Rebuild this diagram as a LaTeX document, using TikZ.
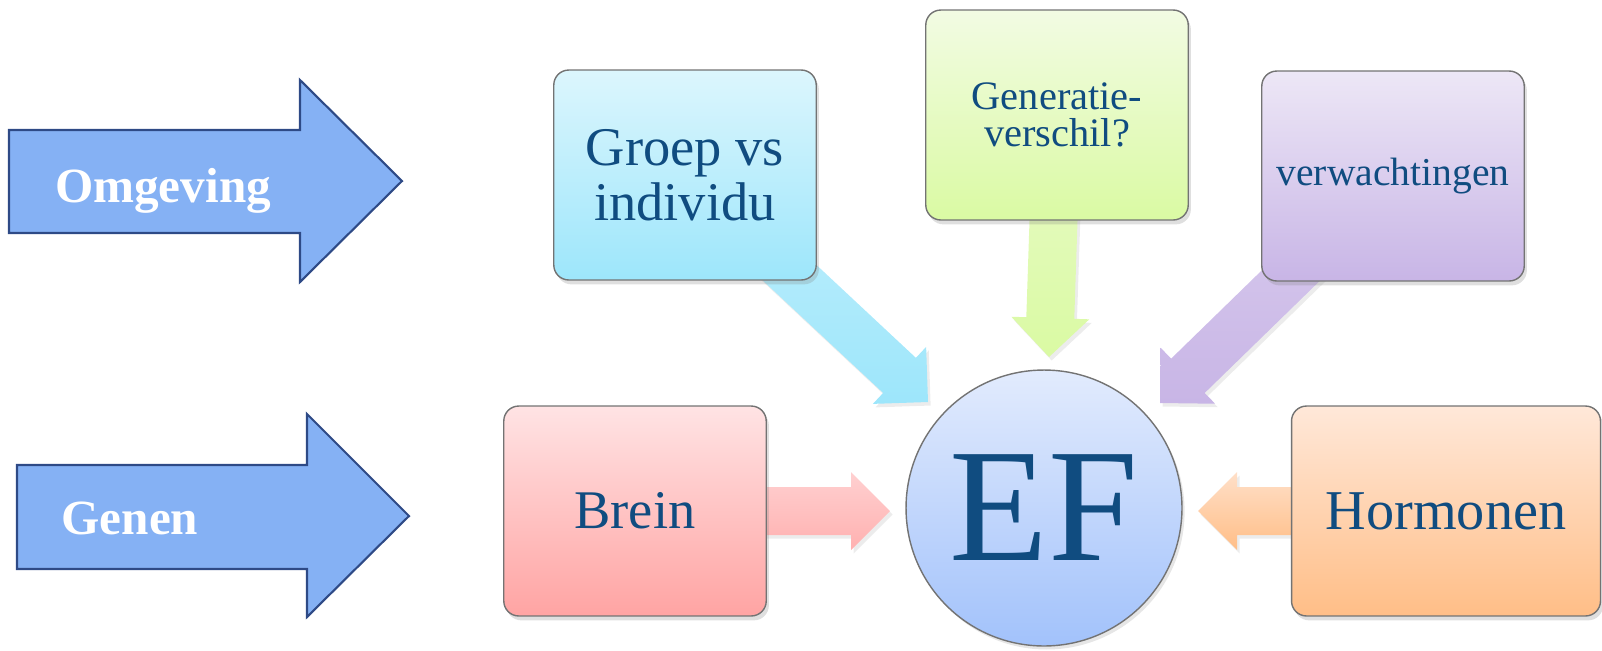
\documentclass[tikz,border=0pt]{standalone}
\usepackage{fontspec}
\setmainfont{Liberation Serif}
\usetikzlibrary{calc,shadows,backgrounds}

\definecolor{tekst}{RGB}{16,76,128}
\definecolor{pijlblauw}{HTML}{85B1F4}
\definecolor{pijlrand}{HTML}{2E4A86}
\definecolor{groepboven}{HTML}{DCF6FD}
\definecolor{groeponder}{HTML}{9DE6FB}
\definecolor{genboven}{HTML}{F2FBE3}
\definecolor{genonder}{HTML}{DAFAA3}
\definecolor{verwboven}{HTML}{EDE7F6}
\definecolor{verwonder}{HTML}{C8B5E6}
\definecolor{breinboven}{HTML}{FFE3E4}
\definecolor{breinonder}{HTML}{FFA4A3}
\definecolor{hormboven}{HTML}{FFE8D9}
\definecolor{hormonder}{HTML}{FFBE87}
\definecolor{efboven}{HTML}{E2EBFD}
\definecolor{efonder}{HTML}{A2C2FB}

\tikzset{
  blok/.style={draw=black!55, line width=0.8pt, rounded corners=0.3cm,
    minimum width=5.25cm, minimum height=4.2cm, align=center, text=tekst,
    drop shadow={opacity=0.25, shadow xshift=1.5pt, shadow yshift=-2.5pt}},
  grootpijl/.style={fill=pijlblauw, draw=pijlrand, line width=1.2pt, line join=miter},
  pijltekst/.style={text=white, font=\fontsize{28}{28}\selectfont\bfseries, anchor=base},
  dikpijl/.style={drop shadow={opacity=0.15, shadow xshift=1.5pt, shadow yshift=-2pt}}
}

% brede pijl van #2 naar #3
\newcommand{\efpijl}[3]{%
  \coordinate (kop) at ($(#3)!0.78cm!(#2)$);
  \path[dikpijl,#1] ($(#2)!0.48cm!90:(#3)$) -- ($(kop)!0.48cm!90:(#3)$)
    -- ($(kop)!0.78cm!90:(#3)$) -- (#3) -- ($(kop)!0.78cm!-90:(#3)$)
    -- ($(kop)!0.48cm!-90:(#3)$) -- ($(#2)!0.48cm!-90:(#3)$) -- cycle;
}

\begin{document}
\begin{tikzpicture}[x=0.02cm,y=-0.02cm]
\useasboundingbox (0,0) rectangle (1602,650);
\def\groot{\fontsize{31}{31}\selectfont}
\def\klein{\fontsize{23}{21}\selectfont}

\draw[grootpijl] (9,130) -- (300,130) -- (300,80) -- (402,181) -- (300,282) -- (300,233) -- (9,233) -- cycle;
\node[pijltekst] (omgeving) at (163,202) {Omgeving};
\draw[grootpijl] (17,465) -- (307,465) -- (307,414) -- (409,516) -- (307,617) -- (307,569) -- (17,569) -- cycle;
\node[pijltekst] (genen) at (130,534) {Genen};

\node[blok, top color=groepboven, bottom color=groeponder, font=\groot] (groep) at (685,175) {Groep vs\\individu};
\node[blok, top color=genboven, bottom color=genonder, font=\klein] (generatie) at (1057,115) {Generatie-\\verschil?};
\node[blok, top color=verwboven, bottom color=verwonder, font=\fontsize{22.5}{22.5}\selectfont] (verw) at (1393,176) {verwachtingen};
\node[blok, top color=breinboven, bottom color=breinonder, font=\groot] (brein) at (635,511) {Brein};
\node[blok, minimum width=6.18cm, top color=hormboven, bottom color=hormonder, font=\fontsize{32}{32}\selectfont] (hormonen) at (1446,511) {Hormonen};

\node[circle, draw=black!55, line width=0.8pt, minimum size=5.52cm, inner sep=0pt,
  top color=efboven, bottom color=efonder, text=tekst, font=\fontsize{92}{92}\selectfont,
  drop shadow={opacity=0.2, shadow xshift=1.5pt, shadow yshift=-2pt}] (ef) at (1044,508) {EF};

\coordinate (groep-punt) at (928,402);
\coordinate (generatie-punt) at (1049,357);
\coordinate (verw-punt) at (1160,403);
\coordinate (brein-punt) at (890,511);
\coordinate (hormonen-punt) at (1198,511);

\begin{scope}[on background layer]
\efpijl{top color=groepboven!60!groeponder, bottom color=groeponder}{groep.center}{groep-punt}
\efpijl{top color=genboven!60!genonder, bottom color=genonder}{generatie.center}{generatie-punt}
\efpijl{top color=verwboven!50!verwonder, bottom color=verwonder}{verw.center}{verw-punt}
\efpijl{top color=breinboven!70!breinonder, bottom color=breinonder!80!breinboven}{brein.center}{brein-punt}
\efpijl{top color=hormboven!80!hormonder, bottom color=hormonder}{hormonen.center}{hormonen-punt}
\end{scope}

\end{tikzpicture}
\end{document}
